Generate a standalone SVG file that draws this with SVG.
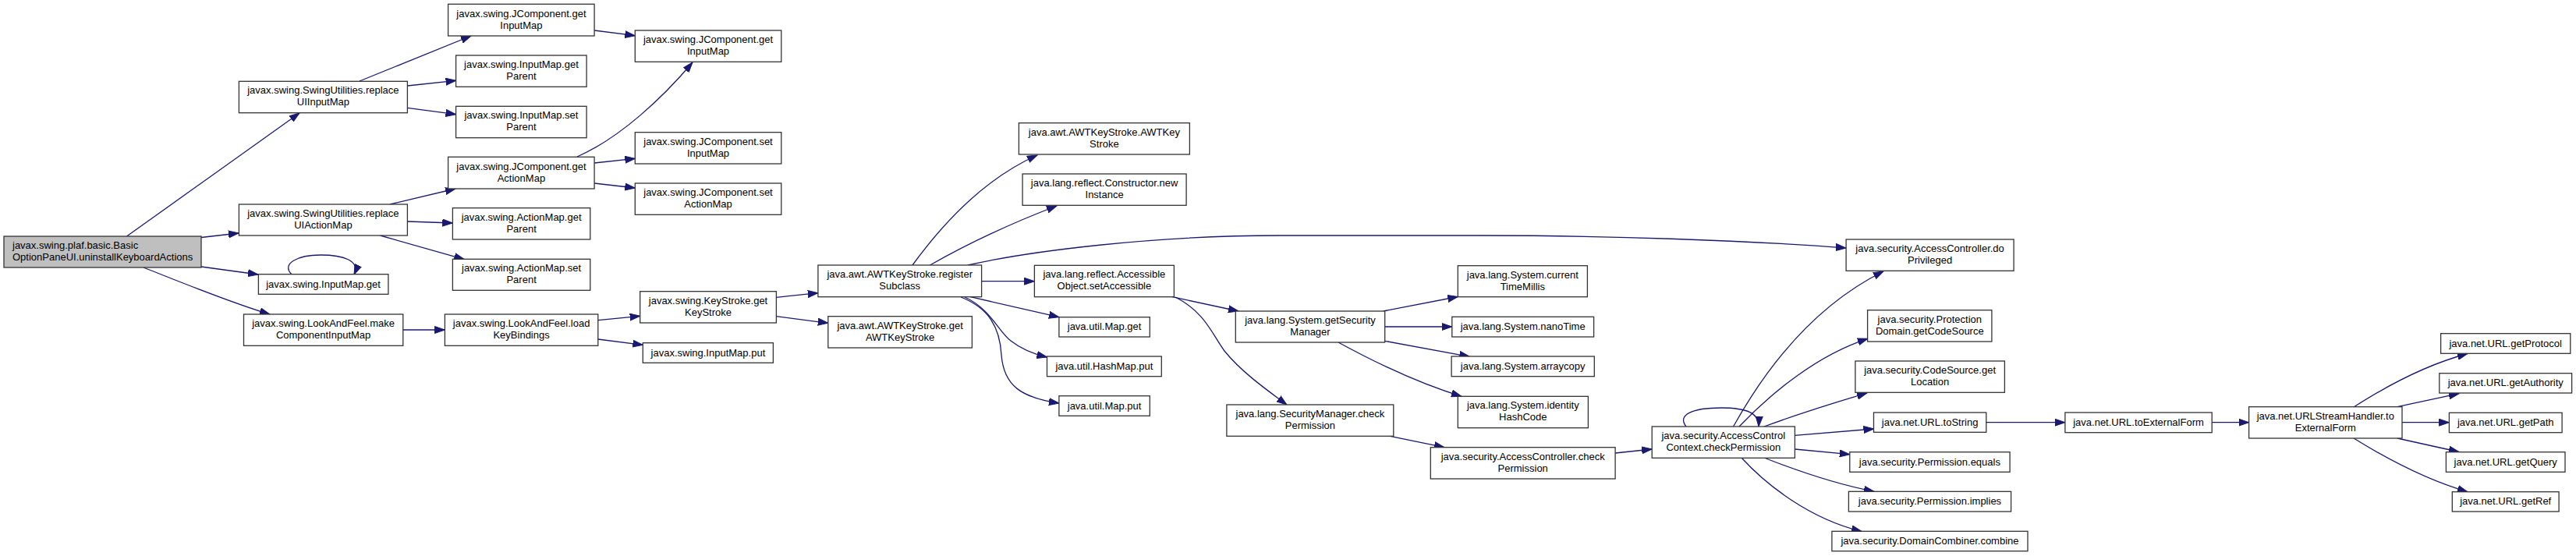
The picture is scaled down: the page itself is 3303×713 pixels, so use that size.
<svg xmlns="http://www.w3.org/2000/svg" width="3303" height="713" viewBox="0 0 3303 713">
<style>
.n rect{fill:#ffffff;stroke:#333333;stroke-width:1.3}
.n.root rect{fill:#bfbfbf}
.n text{font-family:"Liberation Sans",Arial,sans-serif;font-size:13px;fill:#000000;text-anchor:middle}
.n.root text{text-anchor:start}
.e path{fill:none;stroke:#191970;stroke-width:1.3;marker-end:url(#ah)}
</style>
<defs>
<marker id="ah" markerUnits="userSpaceOnUse" markerWidth="14" markerHeight="10" refX="13" refY="5" orient="auto"><path d="M0,0.5 L13,5 L0,9.5 z" fill="#191970" stroke="#191970" stroke-width="1"/></marker>
</defs>
<rect width="3303" height="713" fill="#ffffff"/>
<g id="edges" class="e">
<path d="M162.5,303 L384,145"/>
<path d="M258,304.5 L306,299"/>
<path d="M258,342 L331,352"/>
<path d="M184,343 C230,361 295,388 346,403"/>
<path d="M374,352 C360,338 382,327 411,327 C440,327 462,334 454,352"/>
<path d="M517,423 L570.4,423"/>
<path d="M461,104 L604,46"/>
<path d="M522.5,110 L584.6,103.3"/>
<path d="M522.5,138.3 L584.6,146.7"/>
<path d="M500,262 L584,242"/>
<path d="M522.5,284 L580.4,286"/>
<path d="M487.5,302 L595.4,332.7"/>
<path d="M762.1,39 L814.3,45.7"/>
<path d="M740,201 C795,177 850,125 888,80"/>
<path d="M762.1,209 L814.3,203.3"/>
<path d="M762.1,235 L814.3,241"/>
<path d="M766.8,410.7 L820.7,405.3"/>
<path d="M766.8,435 L824.3,442.3"/>
<path d="M995.4,381.3 L1048.9,375.7"/>
<path d="M995.4,405.7 L1061.8,414.3"/>
<path d="M1170,340 C1205,292 1260,230 1330,199"/>
<path d="M1192.5,340 C1240,313 1300,285 1355,264"/>
<path d="M1241,340 C1320,322 1480,302 1640,302 L1900,302 C2050,302 2240,308 2367,318"/>
<path d="M1258.6,360.7 L1326.4,360.7"/>
<path d="M1244.3,380.7 L1357.9,406.7"/>
<path d="M1237,381 C1270,396 1280,425 1296,437 C1310,448 1325,454 1342.5,458"/>
<path d="M1232,381 C1268,395 1282,420 1284,455 C1287,495 1310,510 1358,517"/>
<path d="M1503,380.7 L1588,399"/>
<path d="M1507,381 C1545,400 1555,430 1570,450 C1590,475 1620,497 1650,519"/>
<path d="M1773.6,399 L1869.3,380.5"/>
<path d="M1775.7,419 L1861.8,419"/>
<path d="M1775.7,437.3 L1884.3,457.3"/>
<path d="M1716,439 C1760,463 1820,492 1874,508.3"/>
<path d="M1782.5,559.3 L1852,573.7"/>
<path d="M2071.1,581 L2118.2,576"/>
<path d="M2162,547 C2150,532 2170,523 2207,523 C2240,523 2256,530 2255,547"/>
<path d="M2222.5,547 C2260,480 2320,395 2415,348"/>
<path d="M2230,547 C2270,505 2330,455 2395,434.3"/>
<path d="M2262,547 C2300,533 2350,517 2394,504"/>
<path d="M2301.4,558.3 L2402.5,550"/>
<path d="M2301.4,576 L2371.8,582.7"/>
<path d="M2262,587 C2300,602 2350,620 2403,630.3"/>
<path d="M2233,587 C2265,622 2320,665 2387,681.5"/>
<path d="M2546.8,541.7 L2647.9,541.7"/>
<path d="M2836.2,541.7 L2883.6,541.7"/>
<path d="M3018,522 C3060,495 3110,468 3164,453.5"/>
<path d="M3073.9,521.7 L3152.9,504.7"/>
<path d="M3080,541.7 L3140.4,541.7"/>
<path d="M3073.9,562 L3152.9,579.5"/>
<path d="M3018,562 C3060,588 3110,615 3164,630.7"/>
</g>
<g id="n0" class="n root"><rect x="5" y="303" width="253" height="40"/><text x="16" y="319">javax.swing.plaf.basic.Basic</text><text x="16" y="334">OptionPaneUI.uninstallKeyboardActions</text></g>
<g id="n1" class="n"><rect x="306.4" y="104.3" width="216" height="40.4"/><text x="414.4" y="120.3">javax.swing.SwingUtilities.replace</text><text x="414.4" y="135.3">UIInputMap</text></g>
<g id="n2" class="n"><rect x="306.4" y="262" width="216" height="40"/><text x="414.4" y="278">javax.swing.SwingUtilities.replace</text><text x="414.4" y="293">UIActionMap</text></g>
<g id="n3" class="n"><rect x="331.4" y="351.7" width="166.5" height="25.6"/><text x="414.6" y="368.5">javax.swing.InputMap.get</text></g>
<g id="n4" class="n"><rect x="312.5" y="403" width="204.3" height="40.3"/><text x="414.6" y="419">javax.swing.LookAndFeel.make</text><text x="414.6" y="434">ComponentInputMap</text></g>
<g id="n5" class="n"><rect x="574.6" y="5.3" width="187.5" height="40.7"/><text x="668.4" y="21.5">javax.swing.JComponent.get</text><text x="668.4" y="36.5">InputMap</text></g>
<g id="n6" class="n"><rect x="584.6" y="71" width="167.5" height="40.3"/><text x="668.4" y="87">javax.swing.InputMap.get</text><text x="668.4" y="102">Parent</text></g>
<g id="n7" class="n"><rect x="584.6" y="136.3" width="167.5" height="40.4"/><text x="668.4" y="152.3">javax.swing.InputMap.set</text><text x="668.4" y="167.3">Parent</text></g>
<g id="n8" class="n"><rect x="574.6" y="201.3" width="187.5" height="40.7"/><text x="668.4" y="217.5">javax.swing.JComponent.get</text><text x="668.4" y="232.5">ActionMap</text></g>
<g id="n9" class="n"><rect x="580.4" y="266.7" width="176.4" height="40.3"/><text x="668.6" y="282.7">javax.swing.ActionMap.get</text><text x="668.6" y="297.7">Parent</text></g>
<g id="n10" class="n"><rect x="580.4" y="332.3" width="176.4" height="40"/><text x="668.6" y="348.3">javax.swing.ActionMap.set</text><text x="668.6" y="363.3">Parent</text></g>
<g id="n11" class="n"><rect x="570.4" y="403" width="196.4" height="40.3"/><text x="668.6" y="419">javax.swing.LookAndFeel.load</text><text x="668.6" y="434">KeyBindings</text></g>
<g id="n12" class="n"><rect x="814.3" y="39" width="187.5" height="40.3"/><text x="908" y="55">javax.swing.JComponent.get</text><text x="908" y="70">InputMap</text></g>
<g id="n13" class="n"><rect x="814.3" y="169.7" width="187.5" height="40.3"/><text x="908" y="185.7">javax.swing.JComponent.set</text><text x="908" y="200.7">InputMap</text></g>
<g id="n14" class="n"><rect x="814.3" y="235" width="187.5" height="40.3"/><text x="908" y="251">javax.swing.JComponent.set</text><text x="908" y="266">ActionMap</text></g>
<g id="n15" class="n"><rect x="820.7" y="373.7" width="174.7" height="40.3"/><text x="908" y="389.7">javax.swing.KeyStroke.get</text><text x="908" y="404.7">KeyStroke</text></g>
<g id="n16" class="n"><rect x="824.3" y="439.7" width="167.1" height="25.6"/><text x="907.9" y="456.5">javax.swing.InputMap.put</text></g>
<g id="n17" class="n"><rect x="1048.9" y="340" width="209.7" height="40.7"/><text x="1153.7" y="356.2">java.awt.AWTKeyStroke.register</text><text x="1153.7" y="371.2">Subclass</text></g>
<g id="n18" class="n"><rect x="1061.8" y="405.7" width="184.6" height="40.3"/><text x="1154.1" y="421.7">java.awt.AWTKeyStroke.get</text><text x="1154.1" y="436.7">AWTKeyStroke</text></g>
<g id="n19" class="n"><rect x="1306.4" y="157.7" width="219" height="40.3"/><text x="1415.9" y="173.7">java.awt.AWTKeyStroke.AWTKey</text><text x="1415.9" y="188.7">Stroke</text></g>
<g id="n20" class="n"><rect x="1311.1" y="223" width="210" height="40.3"/><text x="1416.1" y="239">java.lang.reflect.Constructor.new</text><text x="1416.1" y="254">Instance</text></g>
<g id="n21" class="n"><rect x="1326.4" y="340.3" width="179" height="40.4"/><text x="1415.9" y="356.3">java.lang.reflect.Accessible</text><text x="1415.9" y="371.3">Object.setAccessible</text></g>
<g id="n22" class="n"><rect x="1357.9" y="406.7" width="116.4" height="25.3"/><text x="1416.1" y="423.3">java.util.Map.get</text></g>
<g id="n23" class="n"><rect x="1342.5" y="457" width="146.8" height="25.7"/><text x="1415.9" y="473.8">java.util.HashMap.put</text></g>
<g id="n24" class="n"><rect x="1357.9" y="507.7" width="116.4" height="25.6"/><text x="1416.1" y="524.5">java.util.Map.put</text></g>
<g id="n25" class="n"><rect x="1584.3" y="399" width="191.4" height="40"/><text x="1680" y="415">java.lang.System.getSecurity</text><text x="1680" y="430">Manager</text></g>
<g id="n26" class="n"><rect x="1572.9" y="519" width="213.9" height="40.3"/><text x="1679.9" y="535">java.lang.SecurityManager.check</text><text x="1679.9" y="550">Permission</text></g>
<g id="n27" class="n"><rect x="1869.3" y="340.7" width="166.1" height="40"/><text x="1952.3" y="356.7">java.lang.System.current</text><text x="1952.3" y="371.7">TimeMillis</text></g>
<g id="n28" class="n"><rect x="1861.8" y="406.3" width="181.8" height="25.7"/><text x="1952.7" y="423.1">java.lang.System.nanoTime</text></g>
<g id="n29" class="n"><rect x="1861.1" y="457" width="183.2" height="25.7"/><text x="1952.7" y="473.8">java.lang.System.arraycopy</text></g>
<g id="n30" class="n"><rect x="1869.3" y="508.3" width="167.1" height="40.4"/><text x="1952.8" y="524.3">java.lang.System.identity</text><text x="1952.8" y="539.3">HashCode</text></g>
<g id="n31" class="n"><rect x="1834.3" y="573.7" width="236.8" height="40.3"/><text x="1952.7" y="589.7">java.security.AccessController.check</text><text x="1952.7" y="604.7">Permission</text></g>
<g id="n32" class="n"><rect x="2118.2" y="547" width="183.2" height="40.3"/><text x="2209.8" y="563">java.security.AccessControl</text><text x="2209.8" y="578">Context.checkPermission</text></g>
<g id="n33" class="n"><rect x="2367.1" y="307" width="215" height="40.3"/><text x="2474.6" y="323">java.security.AccessController.do</text><text x="2474.6" y="338">Privileged</text></g>
<g id="n34" class="n"><rect x="2394.6" y="397.7" width="159.3" height="40.3"/><text x="2474.3" y="413.7">java.security.Protection</text><text x="2474.3" y="428.7">Domain.getCodeSource</text></g>
<g id="n35" class="n"><rect x="2378.9" y="463" width="191.5" height="40.3"/><text x="2474.6" y="479">java.security.CodeSource.get</text><text x="2474.6" y="494">Location</text></g>
<g id="n36" class="n"><rect x="2402.5" y="529" width="144.3" height="25.3"/><text x="2474.6" y="545.6">java.net.URL.toString</text></g>
<g id="n37" class="n"><rect x="2371.8" y="579.7" width="205.3" height="25.6"/><text x="2474.4" y="596.5">java.security.Permission.equals</text></g>
<g id="n38" class="n"><rect x="2370.4" y="630.3" width="208.2" height="25.7"/><text x="2474.5" y="647.1">java.security.Permission.implies</text></g>
<g id="n39" class="n"><rect x="2348.9" y="681.3" width="251.1" height="25.4"/><text x="2474.5" y="698">java.security.DomainCombiner.combine</text></g>
<g id="n40" class="n"><rect x="2647.9" y="529" width="188.3" height="25.7"/><text x="2742" y="545.8">java.net.URL.toExternalForm</text></g>
<g id="n41" class="n"><rect x="2883.6" y="521.7" width="196.4" height="40.3"/><text x="2981.8" y="537.7">java.net.URLStreamHandler.to</text><text x="2981.8" y="552.7">ExternalForm</text></g>
<g id="n42" class="n"><rect x="3129.6" y="427.7" width="166.2" height="25.6"/><text x="3212.7" y="444.5">java.net.URL.getProtocol</text></g>
<g id="n43" class="n"><rect x="3127.8" y="478.7" width="169.8" height="25.3"/><text x="3212.7" y="495.3">java.net.URL.getAuthority</text></g>
<g id="n44" class="n"><rect x="3140.4" y="529.3" width="144.7" height="25.4"/><text x="3212.7" y="546">java.net.URL.getPath</text></g>
<g id="n45" class="n"><rect x="3136.4" y="579.7" width="152.6" height="25.6"/><text x="3212.7" y="596.5">java.net.URL.getQuery</text></g>
<g id="n46" class="n"><rect x="3144.3" y="630.7" width="136.8" height="25.3"/><text x="3212.7" y="647.3">java.net.URL.getRef</text></g>
</svg>
